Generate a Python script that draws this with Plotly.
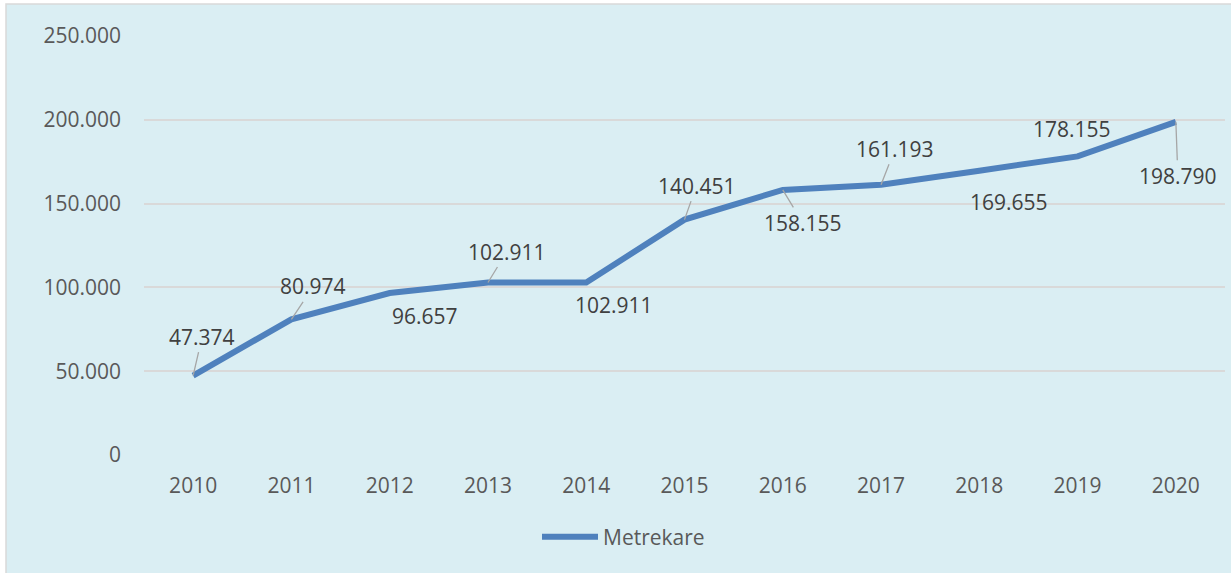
import plotly.graph_objects as go

years = ["2010", "2011", "2012", "2013", "2014", "2015", "2016", "2017", "2018", "2019", "2020"]
metrekare = [47374, 80974, 96657, 102911, 102911, 140451, 158155, 161193, 169655, 178155, 198790]
series_name = "Metrekare"
y_ticks = [0, 50000, 100000, 150000, 200000, 250000]

# label offsets (px) relative to each point, and whether a leader line is drawn
label_dx = [9, 22, 35, 19, 28, 12, 20, 14, 30, -6, 2]
label_dy = [-39, -33, 23, -31, 22, -34, 33, -36, 31, -27, 54]
leader = [True, True, False, True, False, True, True, True, False, False, True]

def fmt(v):
    return f"{v:,}".replace(",", ".")

BG = "#DAEEF3"
GRID = "#D9D9D9"
BLUE = "#4F81BD"
FONT = "Open Sans"
FS = 21

fig = go.Figure()
fig.add_trace(go.Scatter(
    x=years, y=metrekare, mode="lines", name=series_name,
    line=dict(color=BLUE, width=6),
    hoverinfo="skip",
))

# category axis: annotation positions use the category index
for i, (v, dx, dy, ld) in enumerate(zip(metrekare, label_dx, label_dy, leader)):
    if ld:
        fig.add_annotation(
            x=i, y=v, xref="x", yref="y", text=fmt(v),
            showarrow=True, arrowhead=0, arrowwidth=1.3, arrowcolor="#A6A6A6",
            ax=dx, ay=dy,
            font=dict(family=FONT, size=FS, color="#404040"),
        )
    else:
        fig.add_annotation(
            x=i, y=v, xref="x", yref="y", text=fmt(v),
            showarrow=False, xshift=dx, yshift=-dy,
            font=dict(family=FONT, size=FS, color="#404040"),
        )

L, T = 144, 36
W_PLOT, H_PLOT = 1081, 419
def px_x(p):
    return (p - L) / W_PLOT
def px_y(p):
    return (T + H_PLOT - p) / H_PLOT

fig.update_layout(
    width=1231, height=573,
    margin=dict(l=L, r=1231 - L - W_PLOT, t=T, b=573 - T - H_PLOT, pad=0),
    paper_bgcolor="white",
    plot_bgcolor="rgba(0,0,0,0)",
    separators=",.",
    font=dict(family=FONT, size=FS, color="#595959"),
    showlegend=True,
    legend=dict(
        orientation="h", x=px_x(537), xanchor="left", y=px_y(537), yanchor="middle",
        bgcolor="rgba(0,0,0,0)", itemwidth=56,
        font=dict(family=FONT, size=FS, color="#595959"),
    ),
    xaxis=dict(
        type="category", range=[-0.5, 10.5], showgrid=False, zeroline=False,
        showline=False, ticks="", ticklabelstandoff=16,
        tickfont=dict(family=FONT, size=FS, color="#595959"),
    ),
    yaxis=dict(
        range=[0, 250000], tickvals=y_ticks, tickformat=",d",
        showgrid=True, gridcolor=GRID, gridwidth=1.5, zeroline=False,
        showline=False, ticks="", ticklabelstandoff=22,
        tickfont=dict(family=FONT, size=FS, color="#595959"),
    ),
)
fig.add_shape(
    type="rect", xref="paper", yref="paper", layer="below",
    x0=px_x(6), x1=px_x(1240), y0=px_y(580), y1=px_y(4),
    fillcolor=BG, line=dict(color=GRID, width=1.5),
)

fig.write_html("out.html", config={"displayModeBar": False},
               post_script="document.body.style.margin='0';")
